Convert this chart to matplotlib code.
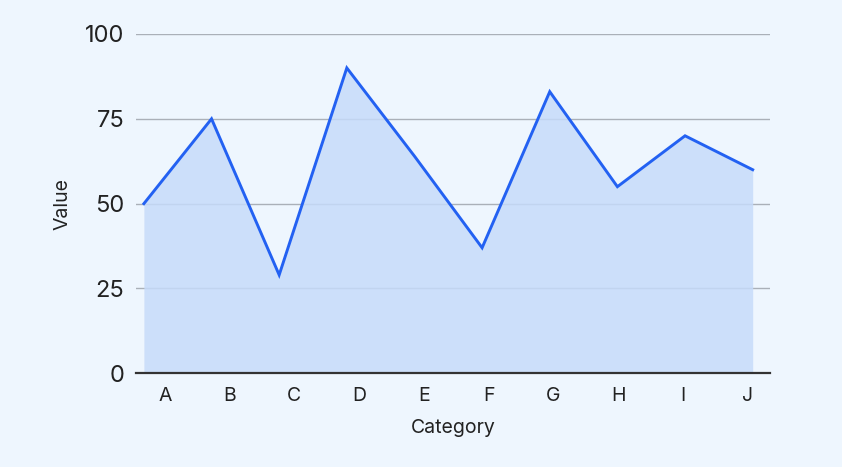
import matplotlib
matplotlib.use("Agg")
from matplotlib import pyplot as plt
import numpy as np

categories = ["A", "B", "C", "D", "E", "F", "G", "H", "I", "J"]
values = [50, 75, 29, 90, 64, 37, 83, 55, 70, 60]
y_ticks = [0, 25, 50, 75, 100]

plt.rcParams['font.family'] = ['Inter', 'DejaVu Sans']

bg = '#EEF6FE'
line_color = '#2361F2'
fill_color = '#C6DBFA'
text_color = '#222222'

fig = plt.figure(figsize=(8.42, 4.67), dpi=100, facecolor=bg)
ax = fig.add_axes([0.161, 0.2006, 0.7535, 0.7266])
ax.set_facecolor(bg)

x = np.arange(len(categories))
ax.fill_between(x, values, 0, color=fill_color, alpha=0.85, linewidth=0, zorder=2)
ax.plot(x, values, color=line_color, linewidth=2.1, solid_joinstyle='miter', zorder=3)

ax.set_xlim(-0.123, 9.256)
ax.set_ylim(0, 100)

# labels sit on their own band scale, slightly off the data points
ax.set_xticks(np.linspace(0.31, 8.93, len(categories)))
ax.set_xticklabels(categories)
ax.set_yticks(y_ticks)

ax.yaxis.grid(True, color='#aab0b8', linewidth=1, zorder=1)
ax.set_axisbelow(True)
for s in ['top', 'right', 'left']:
    ax.spines[s].set_visible(False)
ax.spines['bottom'].set_color('#333333')
ax.spines['bottom'].set_linewidth(1.6)
ax.spines['bottom'].set_zorder(4)

ax.tick_params(axis='both', length=0, colors=text_color, labelsize=14)
ax.tick_params(axis='y', pad=8, labelsize=17)
ax.tick_params(axis='x', pad=10)

ax.set_xlabel('Category', fontsize=14, color=text_color, labelpad=10)
ax.set_ylabel('Value', fontsize=14, color=text_color, labelpad=10)

fig.savefig('out.png', dpi=100, facecolor=bg)
